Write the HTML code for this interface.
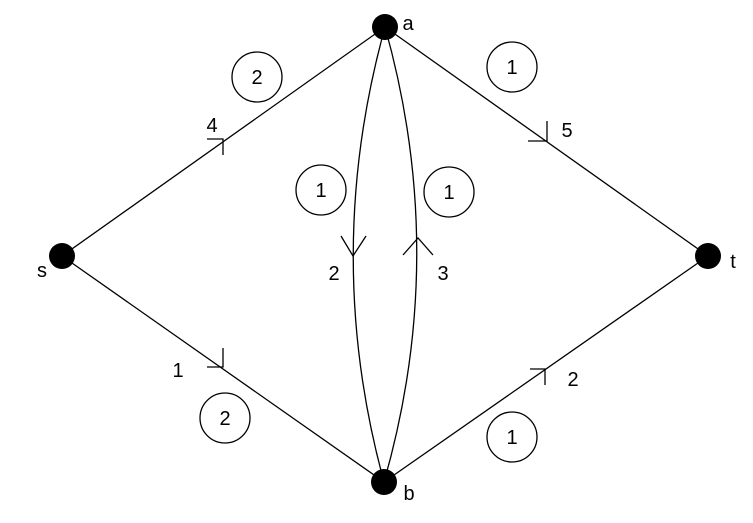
<!DOCTYPE html>
<html><head><style>body{margin:0;background:#fff}svg{display:block}</style></head><body>
<svg width="753" height="523" viewBox="0 0 753 523" xmlns="http://www.w3.org/2000/svg" font-family="Liberation Sans, sans-serif" font-size="20">
<g stroke="#000" stroke-width="1.3" fill="none">
<line x1="62" y1="256" x2="385" y2="27"/>
<line x1="385" y1="27" x2="708" y2="256"/>
<line x1="62" y1="256" x2="384" y2="482"/>
<line x1="384" y1="482" x2="708" y2="256"/>
<path d="M385 27 Q322 255 384 482"/>
<path d="M385 27 Q449 255 384 482"/>
<polyline points="341,236 353,256 366,236"/>
<polyline points="403,255 418,238 433,255"/>
<polyline points="207,139 223,139 223,155"/>
<polyline points="528,141 547,141 547,121"/>
<polyline points="207,367 223,367 223,348"/>
<polyline points="530,369 545,369 545,385"/>
<circle cx="257" cy="77" r="25"/>
<circle cx="512" cy="67" r="25"/>
<circle cx="321" cy="190" r="25"/>
<circle cx="449" cy="192" r="25"/>
<circle cx="225" cy="418" r="25"/>
<circle cx="512" cy="437" r="25"/>
</g>
<g fill="#000">
<circle cx="62" cy="256" r="13"/>
<circle cx="385" cy="27" r="13"/>
<circle cx="708" cy="256" r="13"/>
<circle cx="384" cy="482" r="13"/>
</g>
<g fill="#000" text-anchor="middle">
<text x="257" y="84">2</text>
<text x="512" y="74">1</text>
<text x="321" y="197">1</text>
<text x="449" y="199">1</text>
<text x="225" y="425">2</text>
<text x="512" y="444">1</text>
<text x="212" y="132">4</text>
<text x="567" y="137">5</text>
<text x="178" y="377">1</text>
<text x="573" y="386">2</text>
<text x="334" y="280">2</text>
<text x="443" y="280">3</text>
<text x="42" y="277">s</text>
<text x="733" y="268">t</text>
<text x="409" y="500">b</text>
<text x="408" y="30">a</text>
</g>
</svg>
</body></html>
